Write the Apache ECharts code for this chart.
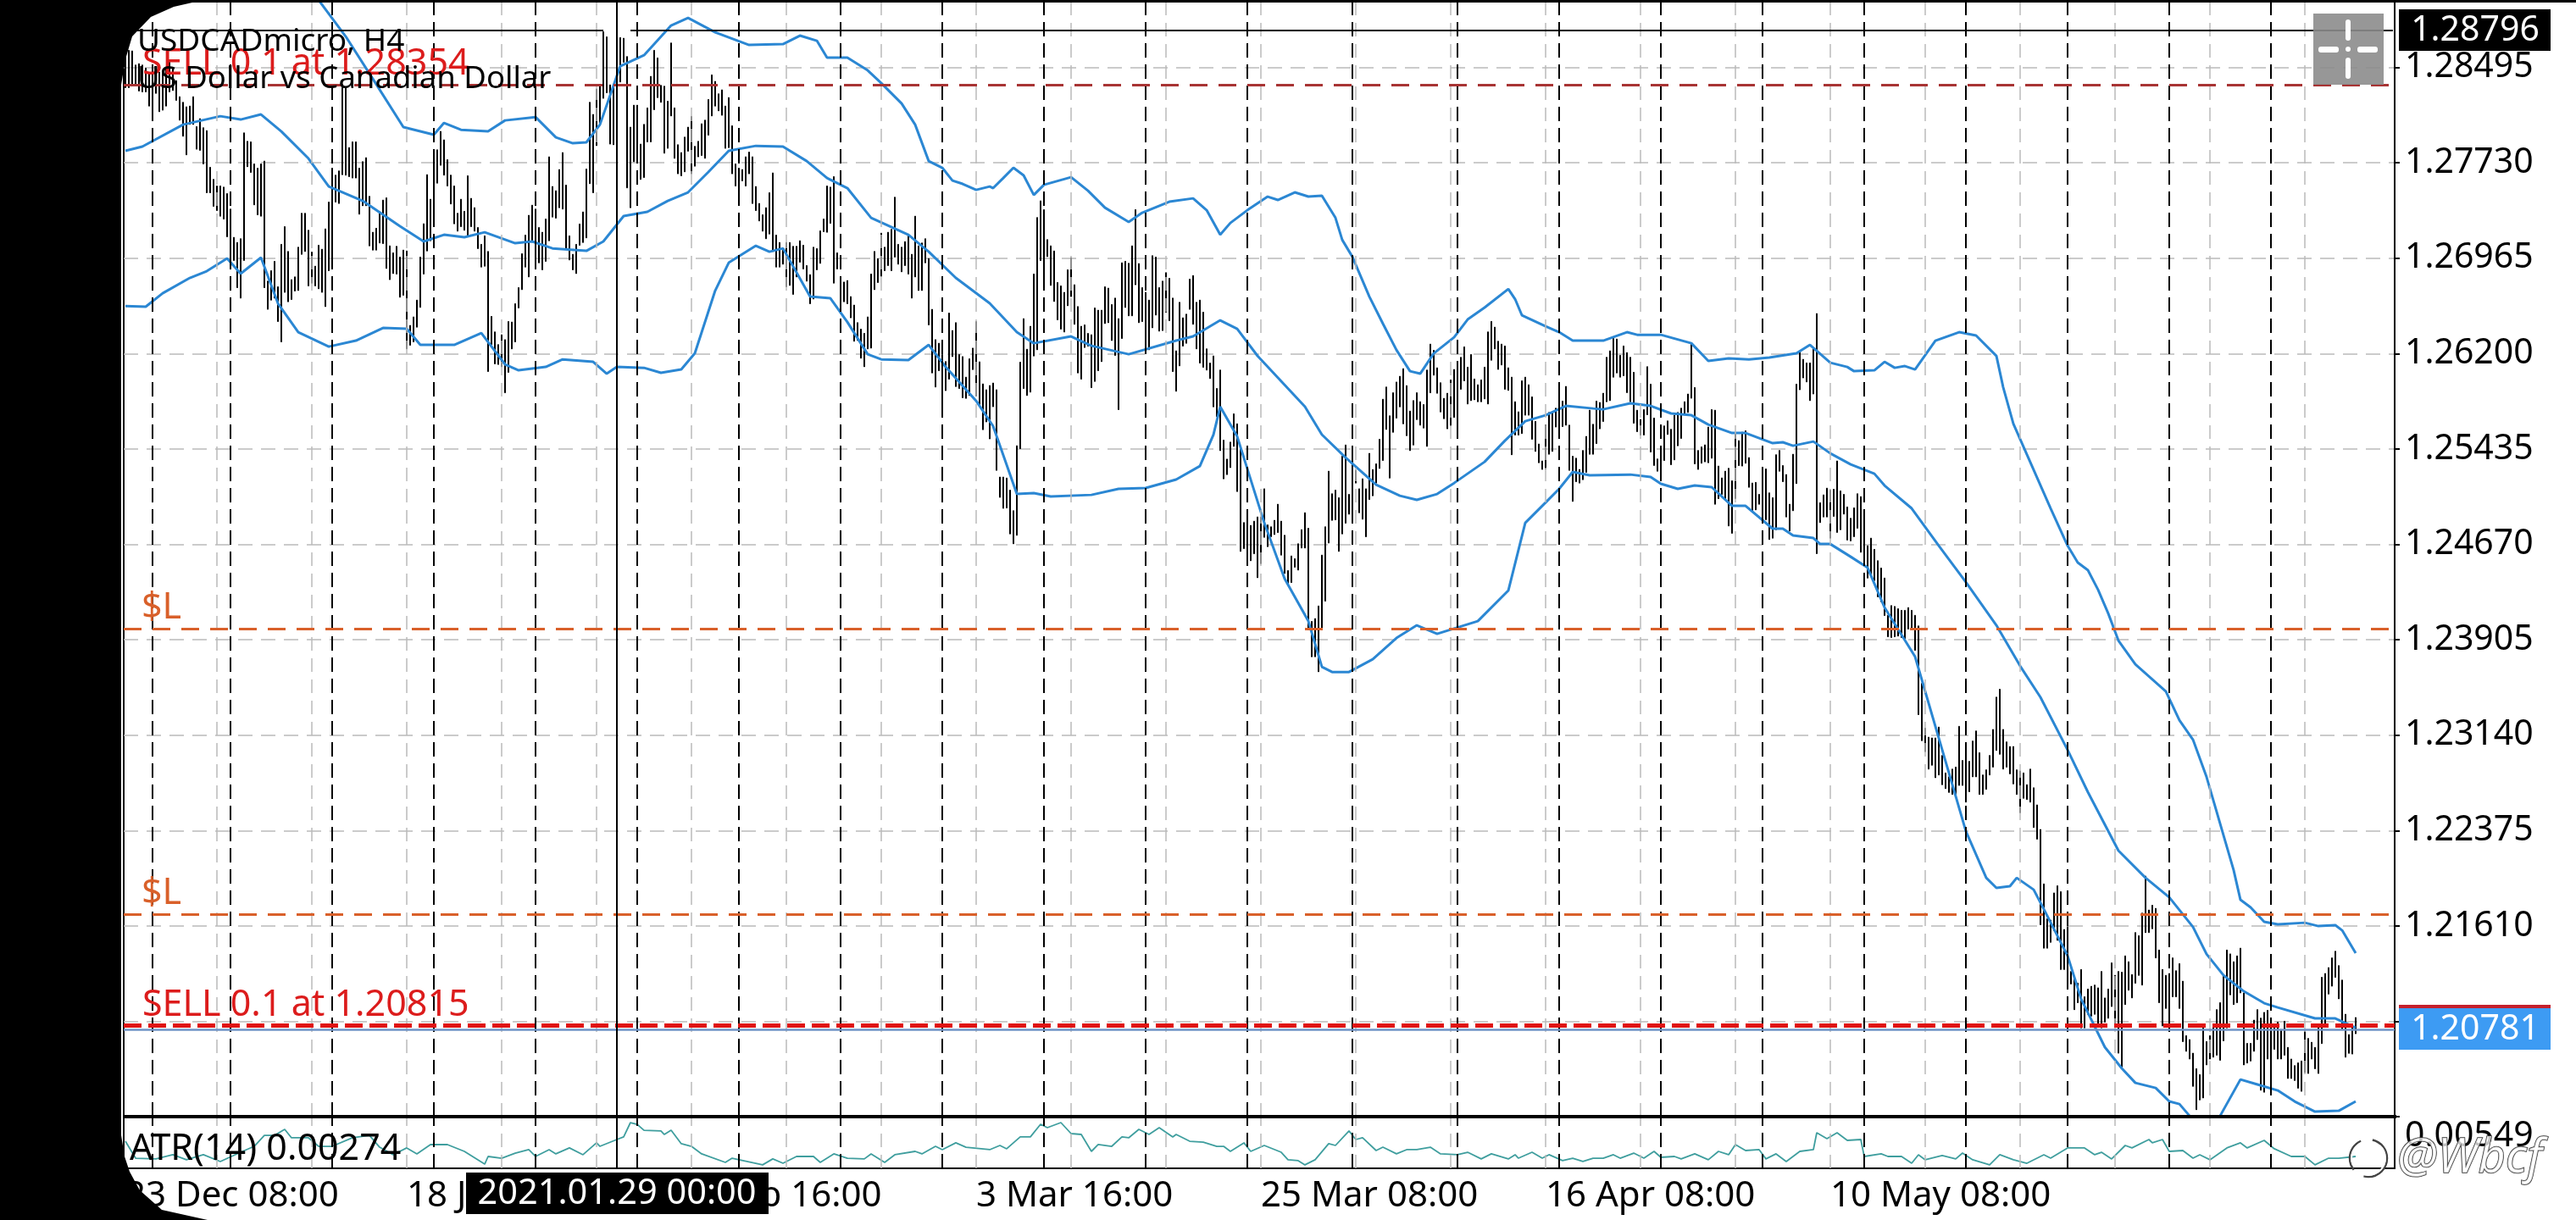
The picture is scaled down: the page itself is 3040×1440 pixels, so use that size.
<!DOCTYPE html>
<html><head><meta charset="utf-8">
<style>html,body{margin:0;padding:0;background:#fff}#c{width:3040px;height:1440px}</style>
<script src="https://cdn.jsdelivr.net/npm/echarts@6/dist/echarts.min.js"></script>
</head><body><div id="c"></div>
<script>
// All prices are in 1e-5 units (points); ATR too.
const highs=[128627,128632,128627,128514,128525,128514,128491,128446,128435,128469,128457,128446,128491,128537,128491,128389,128260,128215,128179,128185,128260,128020,128084,128011,127988,127694,127597,127544,127544,127535,127483,127359,127132,127091,127121,127970,127902,127898,127721,127687,127721,127744,126781,126865,126940,126736,127076,127218,127019,126793,126815,127053,127325,127325,127189,127014,126901,127069,127037,127200,127415,127687,127631,127665,128333,128333,127852,127898,127898,127687,127739,127771,127461,127173,127205,127336,127431,127449,127064,127008,127060,126974,127030,127023,126426,126494,126629,126974,127241,127635,127438,127748,127834,127982,127914,127755,127631,127544,127325,127438,127341,127626,127445,127370,127211,127076,127144,127019,126498,126374,126272,126351,126312,126457,126453,126600,126729,127001,127150,127309,127390,127359,127211,127173,127279,127778,127540,127506,127676,127812,
127551,127144,126996,127076,127239,127336,127680,128215,128118,128321,128355,128781,128740,128355,128360,128700,128734,128729,128582,128016,128192,128192,127880,128038,128170,128423,128632,128571,128351,128344,128224,128691,128170,127875,127812,127936,128016,128102,127862,127902,128043,128072,128238,128435,128383,128283,128315,128185,128253,128027,127721,127687,127676,127778,127816,127778,127540,127404,127313,127370,127490,127649,127150,127091,127030,127091,127091,127060,127060,127105,127069,126906,126833,127053,127042,127184,127279,127544,127535,127619,127008,126781,126774,126786,126657,126589,126448,126396,126362,126494,126838,127019,126962,127166,127053,127173,127196,127454,127076,127053,127098,127144,126996,127302,127064,127087,127121,126962,126555,126312,126283,126192,126136,126525,126385,126448,126192,126176,126011,126158,126244,126457,126134,125957,125910,125944,125964,125910,125210,125210,
125202,125105,124940,125461,126131,126480,126235,126419,126838,127291,127425,127354,127114,127064,127023,126770,126743,126691,126872,126969,126752,126577,126419,126430,126362,126351,126566,126548,126548,126736,126725,126593,126645,126480,126928,126940,126924,127064,127354,126922,126729,126691,126629,126985,126974,126729,126781,126849,126804,126645,126222,126611,126487,126516,126797,126826,126611,126629,126532,126238,126124,126181,125920,126068,125506,125354,125490,125717,125637,125445,124845,124856,124822,124856,124890,124890,125116,124826,124811,124863,124992,124856,124743,124460,124577,124555,124675,124788,124924,124799,124052,124075,124176,124584,124811,125257,125076,125105,125044,125377,125467,125071,125354,125264,125116,125196,125116,125400,125270,125316,125513,125834,125932,125701,125886,125972,126018,126079,125943,125739,125823,125886,125814,125791,126068,126276,126226,126086,125966,125841,
125882,125989,126073,126041,126170,126254,126091,126193,125996,125950,125989,126091,126374,126458,126412,126299,126276,126261,126086,126011,125814,125733,125982,126011,125950,125853,125656,125475,125339,125626,125728,125733,125762,125864,125819,125937,125626,125377,125361,125271,125423,125536,125746,125633,125819,125808,125882,126170,126222,126322,126317,126186,126261,126208,126170,126050,125746,125672,125751,126095,125955,125683,125355,125423,125620,125660,125593,125706,125728,125762,125814,125876,126283,125928,125423,125452,125468,125611,125751,125746,125298,125203,125257,125280,125180,125558,125502,125570,125581,125366,125162,125167,125071,125196,125275,125083,125044,125389,125423,125302,125230,124992,125393,125955,126215,126154,126125,126125,126238,126521,125004,125067,125121,125105,125112,125339,125099,125071,124970,124879,124963,125076,125053,124895,124659,124720,124630,124539,124480,124400,
124101,124179,124172,124154,124141,124141,124163,124141,124101,124016,123555,123196,123124,123118,123118,123205,122977,122837,122806,122868,122884,123211,122937,123024,122930,123093,123174,122999,122821,122862,122977,123186,123445,123508,123186,123086,123049,123049,122862,122852,122837,122743,122868,122718,122581,122384,121947,121667,121657,121875,121932,121885,121582,121604,121245,121198,121151,121261,121042,121104,121126,121136,121114,121245,121033,121104,121314,121214,121245,121239,121370,121323,121220,121557,121532,121713,122010,121738,121776,121751,121417,121261,121214,121229,121354,121251,121308,121167,120730,120699,120590,120465,120418,120793,120683,120730,120808,120939,120995,121214,121417,121386,121323,121370,121432,121073,120668,120668,120855,120939,120871,120917,120933,120839,120793,120839,120777,120846,120636,120543,120490,120512,120527,120771,120708,120677,120636,120808,121198,121229,121276,121354,121407,121292,121176,120902,120739,120808,120876];
const lows=[128333,128333,128355,128355,128306,128299,128299,128185,128095,128287,128140,128152,128185,128299,128310,128231,128072,127943,127794,128038,128038,127839,127830,127721,127490,127490,127381,127347,127302,127279,127137,126974,126947,126729,126645,126947,127699,127653,127393,127313,127302,126729,126555,126629,126645,126457,126294,126691,126616,126634,126702,126706,126996,127019,126743,126765,126743,126720,126691,126577,126865,126917,127415,127404,127635,127631,127619,127608,127608,127318,127386,127386,127064,127030,127030,127087,127082,126883,126793,126842,126838,126652,126668,126238,126267,126294,126412,126571,126838,127023,127105,127257,127567,127710,127631,127544,127400,127241,127182,127218,127189,127144,127218,127182,127042,126894,126901,126056,126272,126118,126113,126095,125886,126050,126238,126294,126566,126713,126894,126815,127098,126924,126928,126872,126940,127105,127295,127286,127370,127359,
127042,126951,126872,126842,127069,127091,127128,127563,127490,127868,128050,128247,128292,127880,127875,128378,128378,128537,127529,127370,127739,127762,127597,127612,127898,127898,128156,128253,128215,127807,127846,128106,127766,127642,127626,127658,127823,127642,127703,127778,127789,127766,127952,128106,128185,128147,128111,127846,127852,127642,127544,127438,127585,127544,127642,127404,127347,127264,127182,127121,127159,127019,126894,126894,126917,126736,126747,126675,126815,126933,126879,126781,126600,126638,126872,126924,127178,127173,127245,126765,126879,126600,126616,126600,126487,126299,126306,126163,126095,126238,126244,126713,126770,126820,126865,126906,126865,126974,126917,126856,126906,126838,126645,126815,126706,126706,126928,126430,126045,125932,126063,125773,125903,125995,126176,125936,125920,125846,125841,125864,126072,125859,125787,125590,125652,125516,125774,125264,125047,124959,
124962,124754,124675,124743,125438,125920,125864,125891,126181,126231,126946,126765,126978,126747,126618,126471,126396,126373,126584,126657,126435,126045,125995,126249,126260,125927,125977,126063,126136,126441,126448,126305,126185,125751,126321,126570,126503,126503,126752,126448,126457,126249,126231,126407,126509,126380,126385,126532,126464,126056,125898,126102,126260,126283,126555,126435,126238,126124,126090,126068,126000,125773,125694,125422,125196,125230,125286,125456,125094,124614,124636,124600,124539,124595,124403,124516,124727,124652,124731,124749,124765,124584,124437,124346,124364,124487,124464,124641,124641,123984,123769,123769,123649,123984,124215,124681,124863,124867,124614,124754,124840,124912,124946,125162,124924,124872,124731,125030,125060,125162,125279,125343,125592,125202,125569,125683,125773,125637,125542,125422,125467,125671,125626,125603,125456,125886,126027,125882,125732,125678,
125597,125620,125688,125597,125914,125982,125796,125823,125830,125814,125814,125837,125796,126147,126238,126073,126109,125914,125905,125389,125547,125547,125559,125706,125706,125513,125416,125325,125271,125275,125393,125416,125611,125597,125615,125626,125264,125015,125173,125162,125189,125248,125393,125393,125479,125597,125656,125814,125823,126011,126045,126011,126023,125887,125814,125642,125574,125547,125547,125710,125411,125303,125257,125253,125343,125552,125309,125348,125461,125520,125717,125728,125842,125316,125271,125321,125332,125325,125361,124992,125037,125071,125026,124818,124759,125038,125302,125298,125321,125128,124936,124947,124992,124936,124868,124709,124720,124788,125257,125173,124890,124777,124940,125158,125910,126005,125973,125823,125876,124596,124845,124890,124890,124720,124895,124766,124788,124913,124705,124698,124732,124800,124607,124517,124400,124430,124380,124250,124210,124100,
123929,123923,123929,123935,123923,123913,123991,123985,123820,123305,123096,123008,122868,122899,122799,122821,122743,122712,122681,122665,122656,122737,122737,122603,122687,122806,122806,122665,122665,122706,122821,122884,123018,122987,122868,122884,122830,122749,122665,122518,122634,122624,122603,122400,122306,121620,121432,121432,121479,121573,121495,121261,121261,121105,121145,120939,120995,120793,120793,120902,120887,120902,120823,120793,120839,120870,120964,120808,120590,120465,120980,121095,121033,121151,121214,121136,121557,121557,121588,121354,120995,120808,120949,120808,121042,121042,120949,120683,120605,120543,120324,120137,120215,120231,120496,120543,120558,120574,120533,120689,120793,121058,120980,120995,121073,120496,120511,120527,120605,120699,120293,120277,120543,120324,120621,120543,120543,120574,120387,120387,120371,120309,120284,120434,120427,120543,120465,120427,120667,120824,121064,121127,121198,121026,120783,120558,120589,120583,120746];
// Bollinger bands: bar index and value of each point
const upperIdx=[48,57,65,73,82,91,94,99,107,112,121,127,132,136,140,146,153,161,166,174,184,194,199,204,207,213,219,223,229,233,237,241,244,247,251,255,256,259,262,265,268,271,279,284,289,296,300,308,315,319,323,326,331,337,340,345,349,353,357,359,362,367,371,375,379,382,386,392,396,401,408,410,412,419,423,427,436,443,446,453,462,467,473,479,485,493,497,503,508,510,516,519,522,525,528,534,541,546,552,554,557,568,573,576,579,582,585,588,593,602,606,610,614,618,622,624,627,631,635,643,647,652,654,658];
const upperVal=[129375,129035,128743,128403,128016,127955,128050,127995,127982,128070,128097,127934,127887,127894,128036,128505,128593,128831,128892,128777,128675,128682,128750,128709,128573,128573,128471,128369,128206,128036,127744,127690,127588,127561,127513,127540,127527,127608,127690,127629,127472,127554,127615,127506,127370,127255,127330,127418,127445,127350,127153,127248,127350,127459,127432,127493,127459,127466,127289,127112,126976,126657,126440,126229,126059,126039,126202,126331,126474,126569,126718,126637,126508,126419,126372,126304,126304,126372,126351,126351,126283,126141,126161,126154,126168,126202,126270,126127,126093,126059,126066,126134,126086,126100,126073,126304,126372,126345,126181,125930,125638,124959,124660,124524,124463,124306,124116,123899,123708,123491,123260,123104,122805,122431,122057,121820,121759,121643,121623,121636,121609,121616,121575,121392];
const midIdx=[0,5,17,28,34,40,46,54,60,70,81,88,94,100,106,115,120,126,136,141,145,147,154,160,166,172,178,186,194,201,207,213,220,231,237,245,255,263,268,279,285,296,310,315,323,328,334,348,353,360,369,376,381,387,392,401,407,413,419,425,433,436,444,450,456,462,467,474,478,486,489,492,498,503,509,516,519,527,535,543,552,559,565,573,579,588,596,603,610,614,619,625,631,635,646,652,658];
const midVal=[127826,127860,128036,128104,128077,128118,127982,127765,127540,127425,127221,127099,127153,127133,127173,127085,127099,127044,127024,127099,127235,127303,127337,127425,127493,127656,127826,127866,127860,127744,127608,127527,127289,127153,127017,126807,126603,126372,126283,126338,126263,126195,126304,126338,126467,126399,126182,125774,125550,125366,125149,125060,125027,125074,125162,125332,125502,125658,125706,125781,125760,125753,125801,125781,125720,125706,125631,125563,125563,125482,125489,125461,125495,125400,125312,125237,125142,124959,124660,124367,124021,123695,123444,123022,122683,122214,121996,121840,121602,121385,121215,121086,120991,120957,120869,120869,120794];
const lowerIdx=[0,6,11,19,24,30,34,40,45,51,60,68,76,83,87,97,105,112,116,124,129,138,142,145,153,158,164,168,174,178,186,190,194,202,208,213,219,223,231,237,242,251,256,263,268,273,285,293,301,310,317,321,323,328,336,342,349,353,356,361,368,375,381,387,399,408,413,419,423,427,432,444,450,453,458,463,468,474,478,486,489,492,498,500,503,509,514,519,528,535,543,549,552,556,558,563,566,573,577,584,589,593,599,603,606,609,610,613,618,624,629,635,640,646,653,658];
const lowerVal=[126582,126576,126684,126807,126861,126963,126841,126970,126603,126372,126256,126304,126406,126399,126270,126270,126365,126114,126066,126093,126154,126134,126039,126093,126086,126046,126073,126202,126705,126929,127065,127017,127044,126657,126644,126453,126195,126154,126148,126270,126093,125821,125618,125074,125081,125054,125067,125115,125122,125190,125298,125550,125774,125536,124843,124395,124055,123688,123647,123647,123749,123919,124021,123953,124055,124300,124843,125006,125115,125251,125224,125230,125210,125156,125115,125142,125129,124979,124979,124796,124796,124741,124721,124673,124673,124571,124483,124164,123770,123117,122370,121996,121915,121929,121996,121901,121745,121371,121025,120638,120468,120352,120311,120203,120182,120087,120047,119897,120087,120379,120339,120291,120203,120121,120128,120203];
// ATR(14) readings
const atrIdx=[0,3,9,14,18,23,28,34,38,41,44,47,49,54,57,61,67,72,75,79,83,86,90,95,100,106,107,111,115,119,121,125,127,131,135,139,140,145,147,149,151,153,158,159,161,164,167,170,177,179,188,191,194,198,203,205,209,213,218,220,224,227,233,235,239,241,245,248,255,258,260,264,267,270,272,276,279,282,285,287,291,294,296,299,302,305,309,310,314,318,322,324,326,330,332,336,341,343,346,348,351,355,357,361,363,365,369,371,375,378,381,385,388,393,396,400,403,408,410,411,415,418,420,424,427,430,433,436,439,441,445,448,451,453,457,459,463,467,470,473,475,478,482,484,487,490,494,498,499,502,505,508,512,513,518,520,524,527,529,531,536,540,542,545,550,553,557,561,566,568,573,578,581,583,586,590,592,597,598,601,603,607,610,612,615,620,624,626,631,634,639,643,646,650,653,658];
const atrVal=[379,262,257,286,251,286,239,303,344,420,420,461,403,403,344,344,403,420,338,286,333,292,356,356,309,221,274,262,297,321,274,321,292,333,286,368,344,391,409,508,496,455,450,426,455,362,344,292,233,262,216,257,227,274,274,233,292,262,257,292,233,286,309,292,344,321,368,338,321,350,327,409,409,496,473,508,432,426,309,356,344,409,403,461,426,473,409,426,379,373,344,344,309,368,309,350,303,251,245,216,251,362,350,450,391,403,315,338,292,321,321,338,292,286,303,257,292,257,286,262,303,262,286,245,262,239,262,262,286,262,297,262,309,268,274,257,292,251,309,286,356,315,321,257,292,239,309,321,438,397,438,385,391,274,292,274,274,227,286,251,280,257,297,251,216,286,251,227,286,262,333,333,286,303,257,350,333,391,368,391,309,315,262,286,251,333,368,333,385,327,274,274,216,262,262,274];

const slotCount=670;
const tickIdx=[0,83,167,251,335,419,503];
const tickLabels=['23 Dec 08:00','18 Jan 08:00','5 Feb 16:00','3 Mar 16:00','25 Mar 08:00','16 Apr 08:00','10 May 08:00'];
const separatorIdx=[8,31,61,91,121,151,181,211,241,271,301,331,362,393,423,453,483,513,543,573,603,633];
const gridIdx=[27,55,83,111,139,167,195,223,251,279,307,335,363,391,419,447,475,503,531,559,587,615,643];
const priceTicks=[1.28495,1.27730,1.26965,1.26200,1.25435,1.24670,1.23905,1.23140,1.22375,1.21610,1.20845];
const atrTicks=[0.00549];
const priceMin=1.20081, priceMax=1.29022, atrMin=0.00192, atrMax=0.00549;
const sellHigh=1.28354, sellLow=1.20815, bidNow=1.20781, slUpper=1.23993, slLower=1.21706, crossPrice=1.28796, crossIdx=145;

const F='"Noto Sans"';
const cats=Array.from({length:slotCount},(_,i)=>{const k=tickIdx.indexOf(i);return k>=0?tickLabels[k]:''+i;});
const P=v=>v/1e5;
const pairs=(xs,ys)=>xs.map((x,i)=>[x,P(ys[i])]);
const vLines=(arr)=>arr.map(i=>({xAxis:i}));
const HL=(v,c,w,t)=>({yAxis:v,lineStyle:{color:c,width:w,type:t}});
const decor=(name,xi,yi,z,data,ls)=>({name,type:'line',xAxisIndex:xi,yAxisIndex:yi,z,data:[],silent:true,
  markLine:{silent:true,symbol:'none',animation:false,precision:5,label:{show:false},lineStyle:ls,data}});
const gs={color:'#bbbbbb',width:1.5,type:[16,9]}, ss={color:'#000',width:2,type:[17,8]}, cs={color:'#000',width:2,type:'solid'};

const txt=(x,y,s,size,fill,extra)=>({type:'text',z:50,style:Object.assign({x,y,text:s,font:size+'px '+F,fill,verticalAlign:'middle',align:'left'},extra||{})});
const rect=(x,y,w,h,fill,r,z)=>({type:'rect',z:z||45,shape:{x,y,width:w,height:h,r:r||0},style:{fill}});

const chart=echarts.init(document.getElementById('c'),null,{renderer:'canvas'});
chart.setOption({
  animation:false,backgroundColor:'#fff',
  grid:[{left:146,width:2680,top:2,height:1316,show:true,borderColor:'#000',borderWidth:2},
        {left:146,width:2680,top:1318,height:61,show:true,borderColor:'#000',borderWidth:2}],
  xAxis:[
   {type:'category',gridIndex:0,data:cats,boundaryGap:true,axisLine:{show:false},axisTick:{show:false},axisLabel:{show:false},splitLine:{show:false}},
   {type:'category',gridIndex:1,data:cats,boundaryGap:true,axisLine:{lineStyle:{color:'#000',width:2}},
    axisTick:{alignWithLabel:true,length:5,lineStyle:{color:'#000',width:2},interval:i=>tickIdx.includes(i)},
    axisLabel:{interval:i=>tickIdx.includes(i),align:'left',margin:12,color:'#000',fontFamily:F,fontSize:42},splitLine:{show:false}}
  ],
  yAxis:[
   {type:'value',gridIndex:0,position:'right',min:priceMin,max:priceMax,
    axisLine:{show:true,lineStyle:{color:'#000',width:2}},
    axisTick:{show:true,length:6,customValues:priceTicks,lineStyle:{color:'#000',width:2}},
    axisLabel:{customValues:priceTicks,formatter:v=>v.toFixed(5),color:'#000',fontFamily:F,fontSize:41,margin:12},
    splitLine:{show:true,lineStyle:{color:'#bbbbbb',width:1.5,type:[17,10]}}},
   {type:'value',gridIndex:1,position:'right',min:atrMin,max:atrMax,
    axisLine:{show:true,lineStyle:{color:'#000',width:2}},
    axisTick:{show:true,length:6,customValues:atrTicks,lineStyle:{color:'#000',width:2}},
    axisLabel:{customValues:atrTicks,formatter:v=>v.toFixed(5),color:'#000',fontFamily:F,fontSize:41,margin:12,verticalAlign:'top',padding:[3,0,0,0]},
    splitLine:{show:false}}
  ],
  series:[
   decor('grid-x',0,0,1,vLines(gridIdx),gs),
   decor('grid-x-atr',1,1,1,vLines(gridIdx),gs),
   decor('separators',0,0,2,vLines(separatorIdx),ss),
   decor('separators-atr',1,1,2,vLines(separatorIdx),ss),
   {name:'USDCADmicro',type:'candlestick',xAxisIndex:0,yAxisIndex:0,z:3,large:false,barWidth:2,
    data:highs.map((h,i)=>[P(lows[i]),P(h),P(lows[i]),P(h)]),
    itemStyle:{color:'#000',color0:'#000',borderColor:'#000',borderColor0:'#000',borderWidth:1}},
   ...[['BB upper',upperIdx,upperVal],['BB middle',midIdx,midVal],['BB lower',lowerIdx,lowerVal]].map(([n,a,b])=>({
     name:n,type:'line',xAxisIndex:0,yAxisIndex:0,z:4,showSymbol:false,clip:true,data:pairs(a,b),
     lineStyle:{color:'#2b87d3',width:3}})),
   decor('levels',0,0,5,[
     HL(sellHigh,'#a83434',3,[21,13]),
     HL(slUpper,'#d9602a',3,[21,13]),
     HL(slLower,'#d9602a',3,[21,13]),
     HL(bidNow,'#6f93c6',2.5,'solid'),
     HL(sellLow,'#e01414',5,[21,8]),
   ],{}),
   decor('crosshair',0,0,6,[
     [{xAxis:0,yAxis:crossPrice},{xAxis:141,yAxis:crossPrice}],
     [{xAxis:149,yAxis:crossPrice},{xAxis:slotCount-1,yAxis:crossPrice}],
     {xAxis:crossIdx}
   ],cs),
   decor('crosshair-atr',1,1,6,[{xAxis:crossIdx}],cs),
   {name:'ATR(14)',type:'line',xAxisIndex:1,yAxisIndex:1,z:4,showSymbol:false,
    data:pairs(atrIdx,atrVal),lineStyle:{color:'#3f9e9e',width:1.8}}
  ],
  graphic:{elements:[
    // pane frame
    rect(0,0,3040,3,'#000',0,40),
    rect(146,1316,2682,4,'#000',0,40),
    // chart text
    txt(168,76,'SELL 0.1 at 1.28354',43,'#dc1c1c'),
    txt(162,49,'USDCADmicro, H4',37,'#000'),
    txt(162,94,'US Dollar vs Canadian Dollar',36.5,'#000'),
    txt(167,718,'$L',43,'#d9602a'),
    txt(167,1055,'$L',43,'#d9602a'),
    txt(168,1187,'SELL 0.1 at 1.20815',43,'#dc1c1c'),
    txt(153,1357,'ATR(14) 0.00274',43,'#000'),
    // crosshair button
    rect(2730,16,83,84,'rgba(140,140,140,0.9)',0,46),
    rect(2768,23,6,25,'#fff',3,47),rect(2768,68,6,25,'#fff',3,47),
    rect(2736,55,24,7,'#fff',3,47),rect(2782,55,24,7,'#fff',3,47),
    {type:'circle',z:47,shape:{cx:2771,cy:58,r:3},style:{fill:'#fff'}},
    // price and time tags
    rect(2831,11,179,49,'#000'),
    txt(2921,36,'1.28796',41,'#fff',{align:'center'}),
    rect(2831,1186,179,4,'#c5202c'),
    rect(2831,1190,179,49,'#3d9bf3'),
    txt(2921,1215,'1.20781',41,'#fff',{align:'center'}),
    rect(550,1384,357,49,'#000'),
    txt(728,1409,'2021.01.29 00:00',41.5,'#fff',{align:'center'}),
    // screen corners
    rect(0,0,143,1440,'#000',0,60),
    {type:'polygon',z:60,shape:{points:[[143,0],[240,0],[205,8],[178,20],[156,43],[148,70],[143,100]]},style:{fill:'#000'}},
    {type:'polygon',z:60,shape:{points:[[143,1340],[147,1365],[153,1383],[165,1405],[191,1428],[245,1440],[143,1440]]},style:{fill:'#000'}},
    // watermark
    {type:'circle',z:70,shape:{cx:2795,cy:1367,r:22},style:{fill:'none',stroke:'#444',lineWidth:2.5,lineDash:[40,14]}},
    {type:'circle',z:70,shape:{cx:2795,cy:1367,r:20},style:{fill:'none',stroke:'#fff',lineWidth:2,lineDash:[40,14]}},
    {type:'text',z:70,style:{x:2829,y:1368,text:'@Wbcf',font:'italic 56px '+F,fill:'rgba(255,255,255,0.75)',stroke:'#333',lineWidth:1.5,verticalAlign:'middle'}}
  ]}
});
</script></body></html>
